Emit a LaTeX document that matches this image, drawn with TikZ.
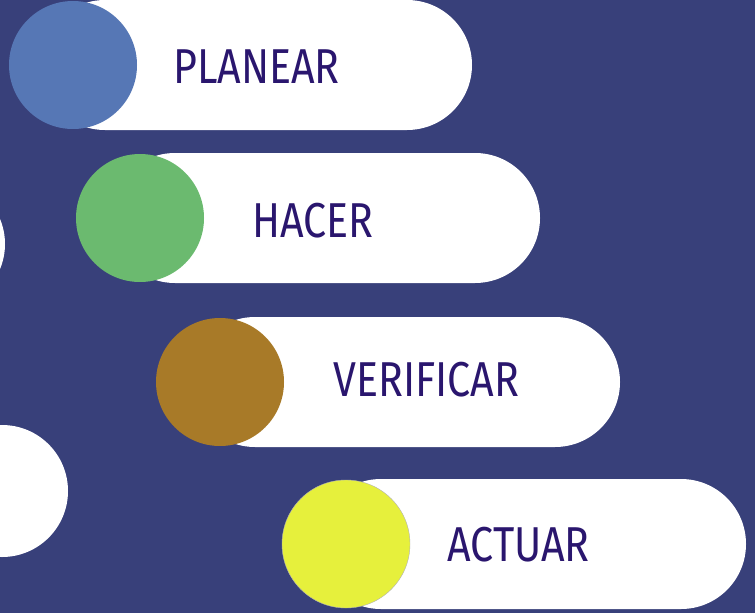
\documentclass[tikz,border=0pt]{standalone}
\usepackage{fontspec}
\newfontfamily\labelfont[FakeStretch=0.84]{Fira Sans}
\definecolor{bg}{RGB}{56,64,122}
\definecolor{txt}{RGB}{42,22,110}
\definecolor{cblue}{RGB}{86,119,181}
\definecolor{cgreen}{RGB}{107,186,111}
\definecolor{cbrown}{RGB}{168,122,40}
\definecolor{cyellow}{RGB}{230,240,60}
\tikzset{
  pillbar/.style={fill=white, rounded corners=65pt},
  dot/.style={circle, minimum size=128pt, inner sep=0pt, draw=none},
  lbl/.style={font=\labelfont\fontsize{49}{50}\selectfont, text=txt, inner sep=0pt, anchor=base west}
}
\begin{document}
\begin{tikzpicture}[x=1pt,y=-1pt]
\fill[bg] (0,0) rectangle (755,613);
\useasboundingbox (0,0) rectangle (755,613);
% partial shapes at left edge
\fill[white] (-60,244) circle (65pt);
\fill[white] (2,491) circle (66pt);
% pills
\fill[pillbar] (40,0) rectangle (472,130);
\fill[pillbar] (110,153) rectangle (540,283);
\fill[pillbar] (190,317) rectangle (620,447);
\fill[pillbar] (316,479) rectangle (746,609);
% circles
\node[dot, fill=cblue] (c1) at (73,65) {};
\node[dot, fill=cgreen] (c2) at (140,218) {};
\node[dot, fill=cbrown] (c3) at (220,382) {};
\node[dot, fill=cyellow, draw=gray!60, line width=0.4pt] (c4) at (346,544) {};
% labels
\node[lbl] (planear) at (173,83) {PLANEAR};
\node[lbl] (hacer) at (252,237) {HACER};
\node[lbl] (verificar) at (333,396) {VERIFICAR};
\node[lbl] (actuar) at (447,561) {ACTUAR};
\end{tikzpicture}
\end{document}
